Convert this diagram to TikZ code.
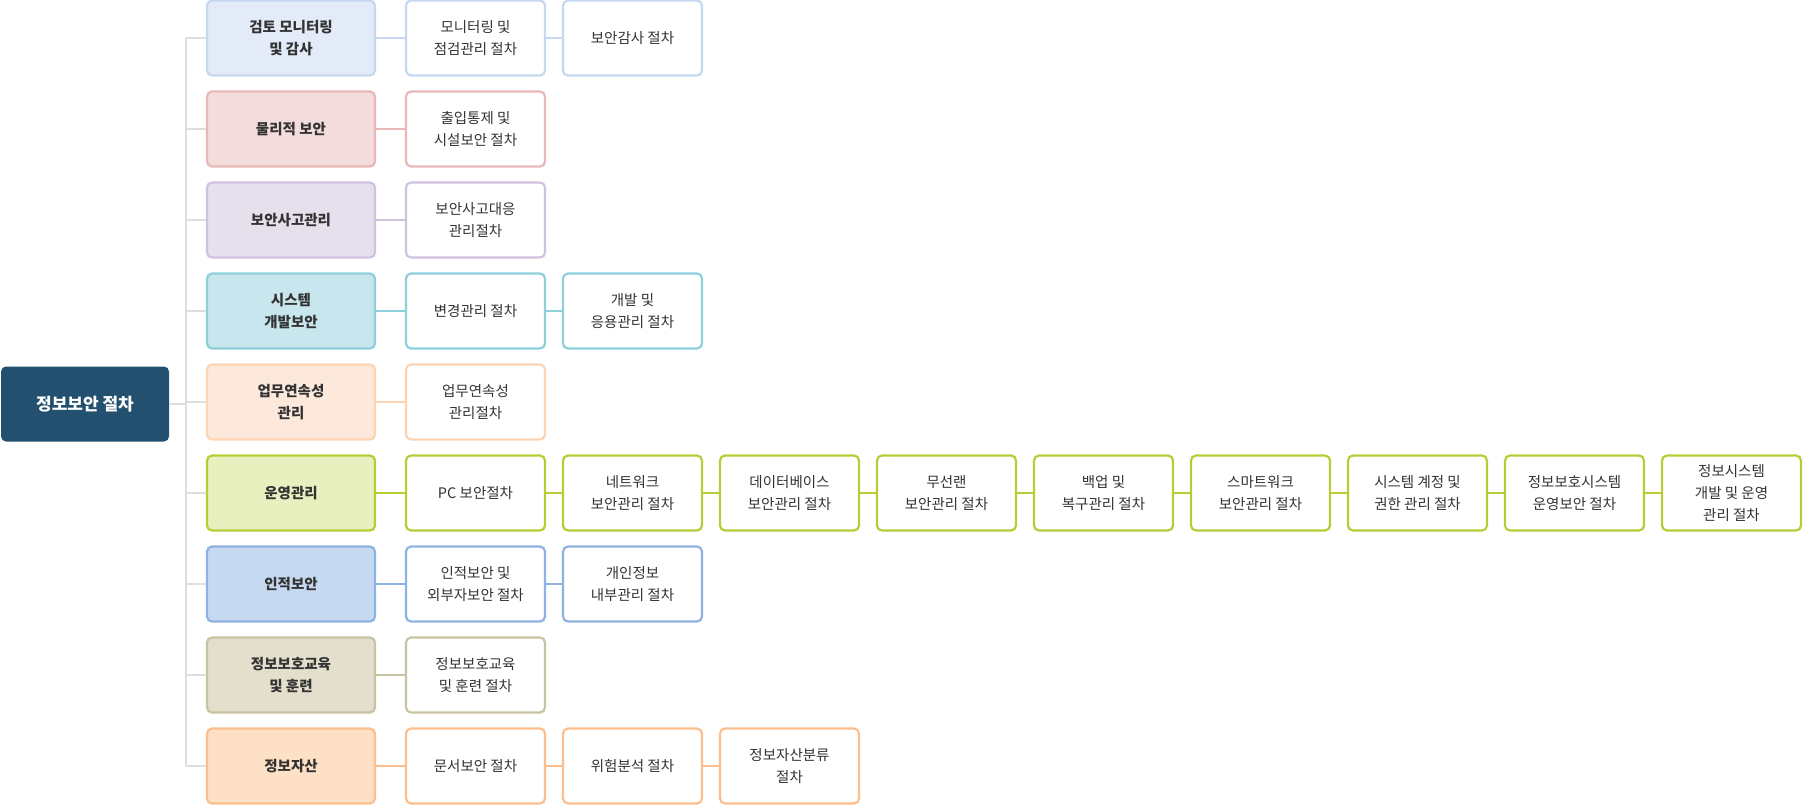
\documentclass[tikz,border=0pt]{standalone}
\usepackage{fontspec}
\setmainfont{Noto Sans CJK KR}
\begin{document}
\begin{tikzpicture}[x=1pt,y=-1pt,
 base/.style={rounded corners=5pt,line width=2.2pt,minimum width=139pt,minimum height=75pt,align=center,font=\fontsize{14.5}{22}\selectfont,text=black!80,inner sep=0pt},
 cat/.style={base,minimum width=168pt,font=\fontsize{14.5}{22}\selectfont\bfseries},
 lf/.style={base,fill=white},
 tree/.style={draw=black!13,line width=2.2pt}]
\useasboundingbox (0,0) rectangle (1803,807);
\definecolor{b1}{HTML}{C5D8F0}\definecolor{f1}{HTML}{E3EAF8}
\definecolor{b2}{HTML}{E8B8B8}\definecolor{f2}{HTML}{F3DCDC}
\definecolor{b3}{HTML}{CFC3DC}\definecolor{f3}{HTML}{E6DFEC}
\definecolor{b4}{HTML}{8ECFDC}\definecolor{f4}{HTML}{C8E6EE}
\definecolor{b5}{HTML}{FCD4B4}\definecolor{f5}{HTML}{FDE9DC}
\definecolor{b6}{HTML}{B9CC36}\definecolor{f6}{HTML}{E9F0C0}
\definecolor{b7}{HTML}{8FB2E2}\definecolor{f7}{HTML}{C5D9F1}
\definecolor{b8}{HTML}{C8C3A0}\definecolor{f8}{HTML}{E4DFCD}
\definecolor{b9}{HTML}{FBBE8C}\definecolor{f9}{HTML}{FDE0C6}
\definecolor{rootc}{HTML}{23506F}
\node[rounded corners=5pt,fill=rootc,minimum width=168pt,minimum height=75pt,text=white,font=\fontsize{17}{22}\selectfont\bfseries] (root) at (85,404) {정보보안 절차};
\coordinate (top) at (186,38);
\coordinate (bot) at (186,766);
\draw[tree] (top) -- (bot);
\draw[tree] (root.east) -- (186,404);
\foreach \i/\t/\ch in {
 1/{검토 모니터링\\및 감사}/{{모니터링 및\\점검관리 절차},{보안감사 절차}},
 2/{물리적 보안}/{{출입통제 및\\시설보안 절차}},
 3/{보안사고관리}/{{보안사고대응\\관리절차}},
 4/{시스템\\개발보안}/{{변경관리 절차},{개발 및\\응용관리 절차}},
 5/{업무연속성\\관리}/{{업무연속성\\관리절차}},
 6/{운영관리}/{{PC 보안절차},{네트워크\\보안관리 절차},{데이터베이스\\보안관리 절차},{무선랜\\보안관리 절차},{백업 및\\복구관리 절차},{스마트워크\\보안관리 절차},{시스템 계정 및\\권한 관리 절차},{정보보호시스템\\운영보안 절차},{정보시스템\\개발 및 운영\\관리 절차}},
 7/{인적보안}/{{인적보안 및\\외부자보안 절차},{개인정보\\내부관리 절차}},
 8/{정보보호교육\\및 훈련}/{{정보보호교육\\및 훈련 절차}},
 9/{정보자산}/{{문서보안 절차},{위험분석 절차},{정보자산분류\\절차}}}{
 \pgfmathsetmacro{\yy}{38+91*(\i-1)}
 \node[cat,draw=b\i,fill=f\i] (c\i) at (291,\yy) {\t};
 \draw[tree] (186,\yy) -- (c\i.west);
 \foreach \c [count=\j] in \ch {
  \pgfmathsetmacro{\xx}{475.5+157*(\j-1)}
  \node[lf,draw=b\i] (n\i-\j) at (\xx,\yy) {\c};
 }
 \foreach \c [count=\j] in \ch {
  \pgfmathtruncatemacro{\pj}{\j-1}
  \ifnum\j=1 \draw[b\i,line width=2.2pt] (c\i.east) -- (n\i-1.west);
  \else \draw[b\i,line width=2.2pt] (n\i-\pj.east) -- (n\i-\j.west);\fi
 }
}
\end{tikzpicture}
\end{document}
